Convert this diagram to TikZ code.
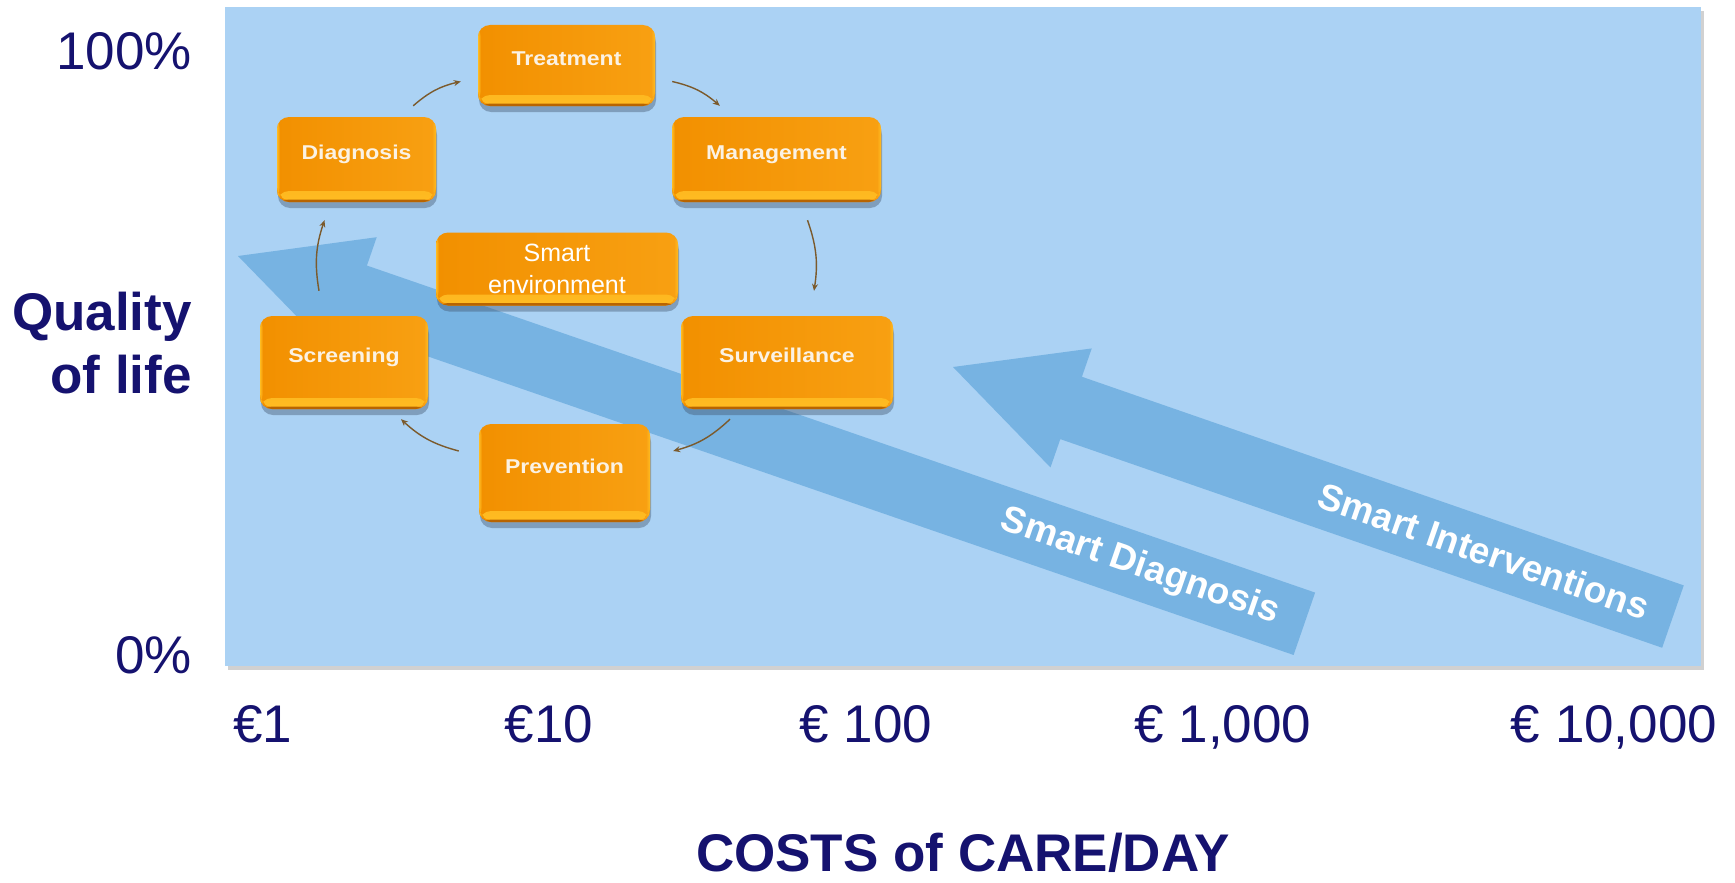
\documentclass[tikz,border=0pt]{standalone}
\usepackage{fontspec}
\setmainfont{Liberation Sans}
\usetikzlibrary{arrows.meta,shadows}
\definecolor{chartbg}{HTML}{ABD2F4}
\definecolor{bandblue}{HTML}{77B3E2}
\definecolor{navy}{HTML}{15126F}
\definecolor{orA}{HTML}{F29000}
\definecolor{orB}{HTML}{F8A012}
\definecolor{orDark}{HTML}{B86400}
\definecolor{orLight}{HTML}{FFBC22}
\definecolor{boxtxt}{HTML}{FBF2E4}
\definecolor{conncol}{HTML}{7B5A2C}
\definecolor{shadowc}{HTML}{3E5068}
\tikzset{
  obox/.style={rectangle, rounded corners=12pt, inner sep=0pt,
    left color=orA, right color=orB,
    drop shadow={shadow xshift=1pt, shadow yshift=-6pt, opacity=0.4, fill=shadowc},
    path picture={
      \shade[top color=orB, bottom color=orLight]
        ([yshift=11pt]path picture bounding box.south west) rectangle
        ([yshift=2pt]path picture bounding box.south east);
      \fill[orDark]
        ([yshift=2.5pt]path picture bounding box.south west) rectangle
        (path picture bounding box.south east);
      \shade[left color=orB, right color=orLight]
        ([xshift=-4pt]path picture bounding box.north east) rectangle
        ([yshift=3pt]path picture bounding box.south east);
      \shade[left color=orLight, right color=orA]
        (path picture bounding box.north west) rectangle
        ([xshift=3pt,yshift=3pt]path picture bounding box.south west);
    },
    text=boxtxt, font=\bfseries\fontsize{20}{24}\selectfont,
    text height=14pt, text depth=14pt},
  axlab/.style={text=navy, inner sep=0pt, font=\fontsize{53}{63}\selectfont},
  axbold/.style={text=navy, inner sep=0pt, font=\bfseries\fontsize{53}{63}\selectfont},
  bandtext/.style={text=white, inner sep=0pt, font=\bfseries\fontsize{37}{44}\selectfont},
  conn/.style={draw=conncol, line width=1.4pt, -{Stealth[length=7pt,width=6pt]}, bend left=14},
  bigarrow/.style={fill=bandblue}
}
\begin{document}
\begin{tikzpicture}[x=1pt,y=1pt]
\useasboundingbox (0,0) rectangle (1735,-883);
% chart area
\fill[chartbg, drop shadow={shadow xshift=3pt, shadow yshift=-4pt, opacity=0.3, fill=black!60}]
  (225,-7) rectangle (1701,-666);
% big arrows
\begin{scope}[shift={(238,-256)}, rotate=-19.03]
  \fill[bigarrow] (0,0) -- (125,63) -- (125,33) -- (1128,33) -- (1128,-33)
    -- (125,-33) -- (125,-63) -- cycle;
  \node[bandtext, rotate=-19.03] (sdlab) at (954,0) {Smart Diagnosis};
\end{scope}
\begin{scope}[shift={(953,-367)}, rotate=-19.12]
  \fill[bigarrow] (0,0) -- (125,63) -- (125,33) -- (762,33) -- (762,-33)
    -- (125,-33) -- (125,-63) -- cycle;
  \node[bandtext, rotate=-19.12] (silab) at (562,0) {Smart Interventions};
\end{scope}
% boxes
\node[obox, minimum width=177pt, minimum height=81pt] (treat) at (566.5,-65.5) {\scalebox{1.15}[1]{Treatment}};
\node[obox, minimum width=159pt, minimum height=85pt] (diag) at (356.5,-159.5) {\scalebox{1.15}[1]{Diagnosis}};
\node[obox, minimum width=209pt, minimum height=85pt] (mgmt) at (776.5,-159.5) {\scalebox{1.15}[1]{Management}};
\node[obox, minimum width=242pt, minimum height=73pt, text=white,
      font=\fontsize{25}{31.5}\selectfont, align=center, text height=, text depth=] (senv) at (557,-269) {Smart\\environment};
\node[obox, minimum width=168pt, minimum height=93pt] (scr) at (344,-362.5) {\scalebox{1.15}[1]{Screening}};
\node[obox, minimum width=212pt, minimum height=93pt] (surv) at (787,-362.5) {\scalebox{1.15}[1]{Surveillance}};
\node[obox, minimum width=171pt, minimum height=98pt] (prev) at (564.5,-473) {\scalebox{1.15}[1]{Prevention}};
% cycle connectors
\draw[conn] ([xshift=-23pt,yshift=11pt]diag.north east) to ([xshift=-17pt,yshift=-16pt]treat.west);
\draw[conn] ([xshift=17pt,yshift=-16pt]treat.east) to ([xshift=48pt,yshift=11pt]mgmt.north west);
\draw[conn] ([xshift=31pt,yshift=-18pt]mgmt.south) to ([xshift=27pt,yshift=25pt]surv.north);
\draw[conn] ([xshift=-57pt,yshift=-10pt]surv.south) to ([xshift=23pt,yshift=22pt]prev.east);
\draw[conn] ([xshift=-20pt,yshift=22pt]prev.west) to ([xshift=57pt,yshift=-10pt]scr.south);
\draw[conn] ([xshift=-25pt,yshift=25pt]scr.north) to ([xshift=-32pt,yshift=-18pt]diag.south);
% y axis labels
\node[axlab, anchor=base east] (y100) at (192,-70) {100\%};
\node[axlab, anchor=base east] (y0) at (192,-673) {0\%};
\node[axbold, anchor=base east] (ql1) at (192,-330) {Quality};
\node[axbold, anchor=base east] (ql2) at (192,-393) {of life};
% x axis labels
\node[axlab, anchor=base] (x1) at (263,-742) {€1};
\node[axlab, anchor=base] (x10) at (549,-742) {€10};
\node[axlab, anchor=base] (x100) at (866,-742) {€ 100};
\node[axlab, anchor=base] (x1000) at (1223,-742) {€ 1,000};
\node[axlab, anchor=base] (x10000) at (1614,-742) {€ 10,000};
\node[axbold, anchor=base] (xtitle) at (963,-871) {COSTS of CARE/DAY};
\end{tikzpicture}
\end{document}
